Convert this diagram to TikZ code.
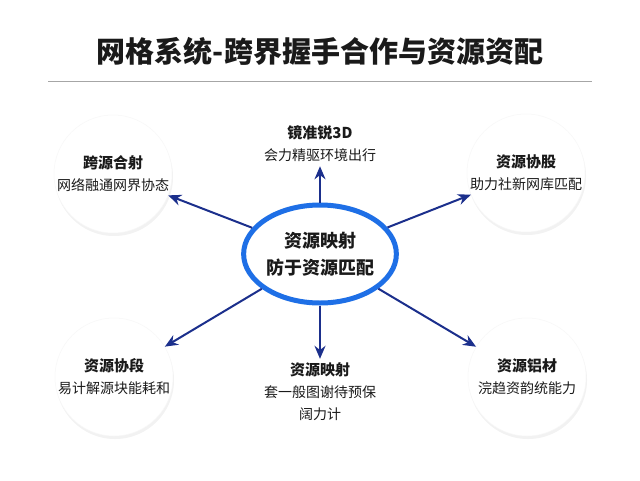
\documentclass[tikz,border=0pt]{standalone}
\usepackage{fontspec}
\setmainfont{Noto Sans CJK SC}
\usetikzlibrary{arrows.meta,shadows,shapes.geometric}
\definecolor{navy}{HTML}{1B2F8C}
\definecolor{ringblue}{HTML}{1E6FE6}
\definecolor{txt}{HTML}{1A1A1A}
\tikzset{
  bubble/.style={circle, minimum size=118pt, inner sep=0pt, fill=white, draw=gray!6, line width=0.5pt,
    drop shadow={shadow xshift=1pt, shadow yshift=-3pt, opacity=0.10, fill=gray}, align=center, text=txt,
    font=\fontsize{14pt}{22pt}\selectfont},
  hub/.style={ellipse, minimum width=140pt, minimum height=98pt, inner sep=0pt, fill=white,
    draw=ringblue, line width=5pt, align=center, text=txt, font=\fontsize{18pt}{27pt}\selectfont\bfseries},
  plain/.style={align=center, text=txt, inner sep=1pt, font=\fontsize{14pt}{22pt}\selectfont},
  link/.style={draw=navy, line width=2pt, -{Stealth[length=13pt,width=11pt]}},
}
\newcommand{\ttl}[1]{{\fontsize{15pt}{22pt}\selectfont\bfseries #1}}
\newcommand{\sbt}[1]{{\fontsize{14pt}{22pt}\selectfont #1}}
\begin{document}
\begin{tikzpicture}[x=1pt,y=-1pt]
  \useasboundingbox[fill=white] (0,0) rectangle (640,480);
  \node[text=txt, font=\fontsize{29pt}{34pt}\selectfont\bfseries] (title) at (320,51) {网格系统-跨界握手合作与资源资配};
  \coordinate (rl) at (48,81);
  \coordinate (rr) at (592,81);
  \draw[gray!70, line width=1pt] (rl) -- (rr);

  \node[bubble] (tl) at (113,174) {\ttl{跨源合射}\\\sbt{网络融通网界协态}};
  \node[bubble] (tr) at (526,173) {\ttl{资源协股}\\\sbt{助力社新网库匹配}};
  \node[bubble] (bl) at (114,377) {\ttl{资源协段}\\\sbt{易计解源块能耗和}};
  \node[bubble] (br) at (527,377) {\ttl{资源铝材}\\\sbt{浣趋资韵统能力}};

  \node[hub] (c) at (320,254) {资源映射\\防于资源匹配};

  \node[plain] (t) at (320,144) {\ttl{镜准锐3D}\\\sbt{会力精驱环境出行}};
  \node[plain] (b) at (320,392) {\ttl{资源映射}\\\sbt{套一般图谢待预保}\\\sbt{阔力计}};

  \draw[link] (c) -- (tl);
  \draw[link] (c) -- (tr);
  \draw[link] (c) -- (bl);
  \draw[link] (c) -- (br);
  \draw[link, shorten >=3pt] (c.north) -- (t.south);
  \draw[link, shorten >=3pt] (c.south) -- (b.north);
\end{tikzpicture}
\end{document}
